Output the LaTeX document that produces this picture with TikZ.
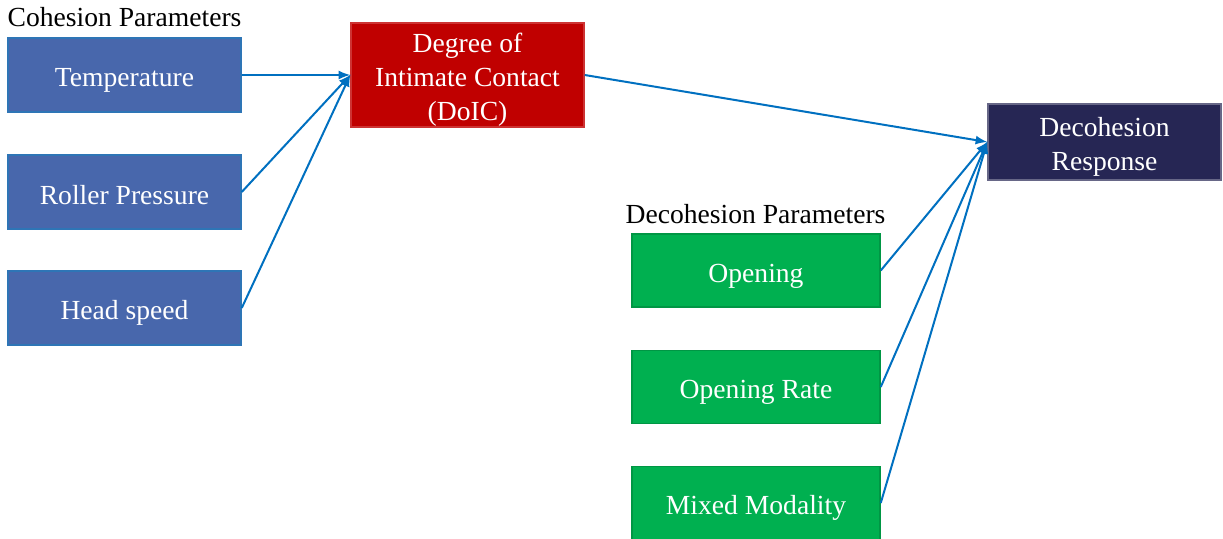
\documentclass[tikz,border=0pt]{standalone}
\usepackage{fontspec}
\setmainfont{Liberation Serif}
\usetikzlibrary{arrows}
\usetikzlibrary{positioning}

\definecolor{cohblue}{RGB}{72,103,172}
\definecolor{cohedge}{RGB}{46,117,182}
\definecolor{doicred}{RGB}{192,0,0}
\definecolor{respnavy}{RGB}{38,38,84}
\definecolor{decgreen}{RGB}{0,176,80}
\definecolor{linkblue}{RGB}{0,112,192}

% lowers the first line of a multi-line box
\newcommand{\firststrut}{\rule{0pt}{14.5pt}}

\begin{document}
\begin{tikzpicture}[x=0.5pt,y=-0.5pt,
	box/.style={minimum width=116.5pt, minimum height=37pt, inner sep=0pt, text=white, align=center, font=\fontsize{13.8}{16.8}\selectfont, line width=0.75pt,
		execute at begin node={\rule[-1.5pt]{0pt}{16pt}}, execute at end node={\rule[-1.5pt]{0pt}{0pt}}},
	cohbox/.style={box, fill=cohblue, draw=cohedge},
	decbox/.style={box, fill=decgreen, draw=decgreen!85!black, minimum width=124pt, minimum height=36.5pt},
	grouplbl/.style={inner sep=0pt, font=\fontsize{13.8}{16.8}\selectfont},
	link/.style={draw=linkblue, line width=1pt, -latex}]

	\useasboundingbox (0,0) rectangle (1223,539);

	% cohesion side
	\node[cohbox] (temp) at (124.5,75) {Temperature};
	\node[cohbox] (roll) at (124.5,192) {Roller Pressure};
	\node[cohbox] (head) at (124.5,308) {Head speed};
	\node[grouplbl, above=5pt of temp.north west, anchor=south west] (cohlbl) {Cohesion Parameters};

	\node[box, fill=doicred, draw=doicred!80!white, minimum height=52pt] (doic) at (467.5,75) {\firststrut Degree of\\Intimate Contact\\(DoIC)};

	% decohesion side
	\node[decbox] (open) at (756,270.5) {Opening};
	\node[decbox] (rate) at (756,387) {Opening Rate};
	\node[decbox] (mixed) at (756,503) {Mixed Modality};
	\node[grouplbl, above=4.5pt of open.north west, anchor=south west, xshift=-3pt] (declbl) {Decohesion Parameters};

	\node[box, fill=respnavy, draw=respnavy!70!white, minimum height=38pt] (resp) at (1104.5,142) {\firststrut Decohesion\\Response};

	\draw[link] (temp.east) -- (doic.west);
	\draw[link] (roll.east) -- (doic.west);
	\draw[link] (head.east) -- (doic.west);
	\draw[link] (doic.east) -- (resp.west);
	\draw[link] (open.east) -- (resp.west);
	\draw[link] (rate.east) -- (resp.west);
	\draw[link] (mixed.east) -- (resp.west);
\end{tikzpicture}
\end{document}
